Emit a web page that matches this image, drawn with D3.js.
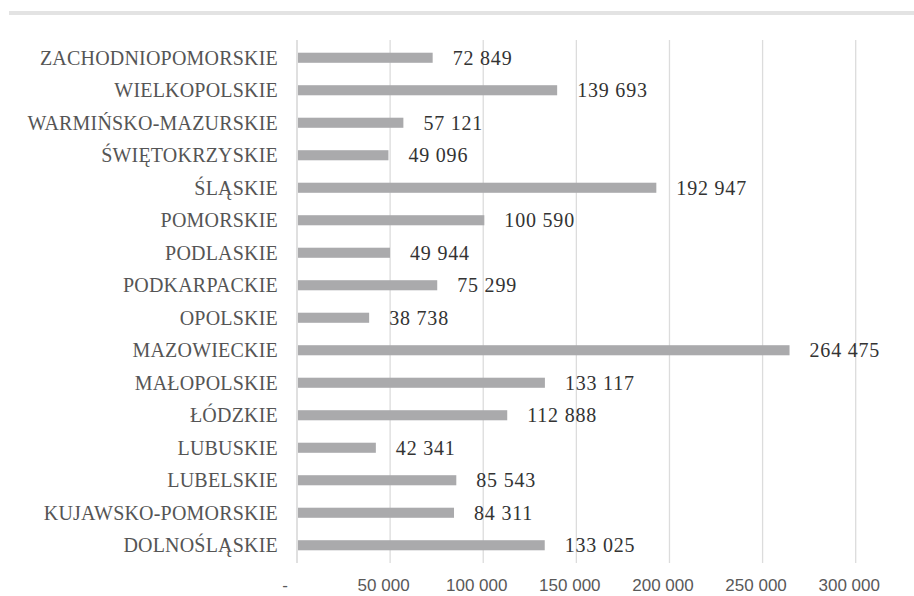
<!DOCTYPE html>
<html>
<head>
<meta charset="utf-8">
<script src="https://cdn.jsdelivr.net/npm/d3@7"></script>
<style>
  html, body { margin: 0; padding: 0; background: #ffffff; }
  svg { display: block; }
</style>
</head>
<body>
<svg id="chart" width="914" height="596"></svg>
<script>
// Voivodeships (alphabetical, as in the source table)
const regions = [
  "DOLNOŚLĄSKIE", "KUJAWSKO-POMORSKIE", "LUBELSKIE", "LUBUSKIE", "ŁÓDZKIE",
  "MAŁOPOLSKIE", "MAZOWIECKIE", "OPOLSKIE", "PODKARPACKIE", "PODLASKIE",
  "POMORSKIE", "ŚLĄSKIE", "ŚWIĘTOKRZYSKIE", "WARMIŃSKO-MAZURSKIE",
  "WIELKOPOLSKIE", "ZACHODNIOPOMORSKIE"
];
const values = [
  133025, 84311, 85543, 42341, 112888,
  133117, 264475, 38738, 75299, 49944,
  100590, 192947, 49096, 57121,
  139693, 72849
];
const xTicks = [0, 50000, 100000, 150000, 200000, 250000, 300000];
const xMax = 300000;

const rows = regions.map((r, i) => ({ region: r, value: values[i] }));

const plLocale = d3.formatLocale({ decimal: ",", thousands: " ", grouping: [3], currency: ["", " zł"] });
const fmt = plLocale.format(",d");

const svg = d3.select("#chart");

// thin band across the top of the frame
svg.append("rect")
  .attr("x", 9).attr("y", 11).attr("width", 905).attr("height", 4)
  .attr("fill", "#e3e3e3");

const x = d3.scaleLinear().domain([0, xMax]).range([297, 855.7]);
const y = d3.scaleBand()
  .domain(regions.slice().reverse())
  .range([41.5, 561.5])
  .paddingInner(0.69)
  .paddingOuter(0.345);

// vertical gridlines
svg.append("g")
  .selectAll("line")
  .data(xTicks)
  .join("line")
  .attr("x1", d => x(d)).attr("x2", d => x(d))
  .attr("y1", 40).attr("y2", 563)
  .attr("stroke", d => d === 0 ? "#d0d0d0" : "#dcdcdc")
  .attr("stroke-width", 1.3);

// x tick labels
svg.append("g")
  .selectAll("text")
  .data(xTicks)
  .join("text")
  .attr("x", d => x(d) + (d === 0 ? -12 : -6.5))
  .attr("y", 585)
  .attr("dy", "0.35em")
  .attr("text-anchor", "middle")
  .attr("font-family", "'Liberation Sans Narrow', 'Arial Narrow', 'Liberation Sans', sans-serif")
  .attr("font-size", 17)
  .attr("fill", "#595959")
  .text(d => d === 0 ? "-" : fmt(d));

// bars
svg.append("g")
  .selectAll("rect")
  .data(rows)
  .join("rect")
  .attr("x", x(0) + 1)
  .attr("y", d => y(d.region))
  .attr("width", d => x(d.value) - x(0) - 1)
  .attr("height", y.bandwidth())
  .attr("fill", "#aaaaac");

// category labels
svg.append("g")
  .selectAll("text")
  .data(rows)
  .join("text")
  .attr("x", x(0) - 19)
  .attr("y", d => y(d.region) + y.bandwidth() / 2)
  .attr("dy", "0.35em")
  .attr("text-anchor", "end")
  .attr("font-family", "'Liberation Serif', 'Times New Roman', serif")
  .attr("font-size", 20)
  .attr("letter-spacing", 0.2)
  .attr("fill", "#555555")
  .text(d => d.region);

// value labels
svg.append("g")
  .selectAll("text")
  .data(rows)
  .join("text")
  .attr("x", d => x(d.value) + 20)
  .attr("y", d => y(d.region) + y.bandwidth() / 2)
  .attr("dy", "0.35em")
  .attr("text-anchor", "start")
  .attr("font-family", "'Liberation Serif', 'Times New Roman', serif")
  .attr("font-size", 20)
  .attr("letter-spacing", 0.8)
  .attr("fill", "#333333")
  .text(d => fmt(d.value));
</script>
</body>
</html>
